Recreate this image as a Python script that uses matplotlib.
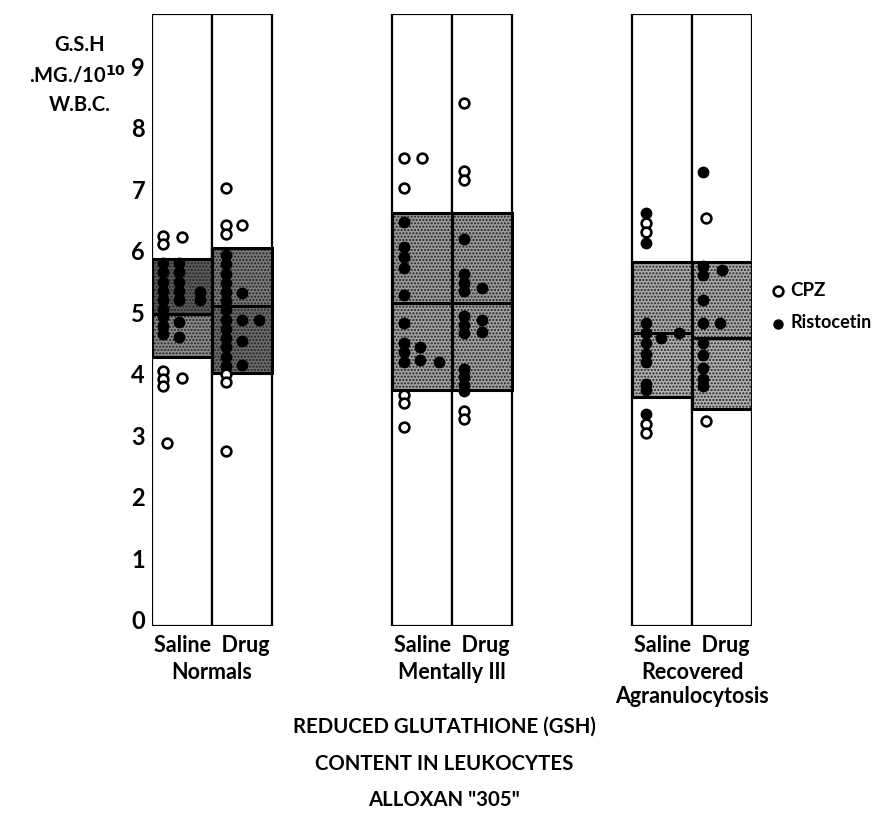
import matplotlib
matplotlib.use("Agg")
import matplotlib.pyplot as plt
from matplotlib.patches import Rectangle

plt.rcParams['font.family'] = ['Lato', 'DejaVu Sans']

groups = ["Normals", "Mentally Ill", "Recovered\nAgranulocytosis"]
columns = ["Saline", "Drug"]

# shaded band per column: bottom, middle line, top
band_low = [4.27, 4.02, 3.73, 3.73, 3.62, 3.42]
band_mid = [4.98, 5.11, 5.15, 5.15, 4.67, 4.59]
band_high = [5.86, 6.04, 6.61, 6.61, 5.81, 5.81]
# shade of the upper / lower half
shade_up = ['#5a5a5a', '#7a7a7a', '#9a9a9a', '#9a9a9a', '#a8a8a8', '#a8a8a8']
shade_lo = ['#8a8a8a', '#6a6a6a', '#a0a0a0', '#a0a0a0', '#b0b0b0', '#b0b0b0']

# CPZ (open) points, x offset inside column and value
cpz_x = [
    [0.18, 0.18, 0.5, 0.18, 0.18, 0.18, 0.5, 0.25],
    [0.23, 0.23, 0.23, 0.5, 0.23, 0.23, 0.23],
    [0.2, 0.5, 0.2, 0.2, 0.2, 0.2],
    [0.2, 0.2, 0.2, 0.2, 0.2],
    [0.23, 0.23, 0.23, 0.23],
    [0.23, 0.23],
]
cpz_y = [
    [6.24, 6.11, 6.22, 4.04, 3.92, 3.81, 3.94, 2.88],
    [7.02, 6.42, 6.28, 6.42, 4.0, 3.87, 2.75],
    [7.51, 7.51, 7.02, 3.65, 3.52, 3.13],
    [8.4, 7.3, 7.15, 3.4, 3.26],
    [6.45, 6.3, 3.19, 3.03],
    [6.53, 3.24],
]
# Ristocetin (filled) points
ris_x = [
    [0.18] * 9 + [0.45] * 7 + [0.8, 0.8],
    [0.23] * 13 + [0.5, 0.5, 0.78, 0.5, 0.5],
    [0.2] * 9 + [0.47, 0.47, 0.78],
    [0.2] * 4 + [0.5] + [0.2] * 3 + [0.5, 0.5] + [0.2] * 4,
    [0.23] * 2 + [0.23] * 7 + [0.48, 0.78, 0.23],
    [0.18, 0.18, 0.18, 0.5, 0.18, 0.18, 0.47, 0.18, 0.18, 0.18, 0.18, 0.18],
]
ris_y = [
    [5.8, 5.65, 5.5, 5.35, 5.2, 5.05, 4.92, 4.78, 4.64,
     5.8, 5.65, 5.5, 5.35, 5.2, 4.84, 4.6, 5.33, 5.2],
    [5.93, 5.78, 5.63, 5.48, 5.33, 5.18, 5.03, 4.88, 4.73, 4.58, 4.43, 4.28, 4.13,
     5.32, 4.87, 4.87, 4.54, 4.14],
    [6.47, 6.06, 5.9, 5.72, 5.28, 4.82, 4.5, 4.35, 4.2, 4.43, 4.22, 4.2],
    [6.2, 5.62, 5.48, 5.35, 5.4, 4.94, 4.8, 4.66, 4.88, 4.68, 4.08, 3.95, 3.82, 3.72],
    [6.61, 6.12, 4.82, 4.66, 4.5, 4.33, 4.19, 3.84, 3.73, 4.58, 4.67, 3.35],
    [7.28, 5.75, 5.6, 5.68, 5.2, 4.82, 4.82, 4.5, 4.3, 4.1, 3.92, 3.8],
]

col_left = [0, 1, 4, 5, 8, 9]

fig = plt.figure(figsize=(8.82, 8.18), dpi=100)
ax = fig.add_axes([152 / 882, 1 - 626 / 818, 600 / 882, 612 / 818])
ax.set_xlim(0, 10)
ax.set_ylim(-0.1, 9.85)

for i, x0 in enumerate(col_left):
    # white column
    ax.add_patch(Rectangle((x0, -0.1), 1, 9.95, facecolor='white',
                           edgecolor='black', lw=1.6, zorder=1))
    # stippled band, two halves
    for lo, hi, c in [(band_low[i], band_mid[i], shade_lo[i]),
                      (band_mid[i], band_high[i], shade_up[i])]:
        ax.add_patch(Rectangle((x0, lo), 1, hi - lo, facecolor=c,
                               edgecolor='none', zorder=2))
        ax.add_patch(Rectangle((x0, lo), 1, hi - lo, fill=False, hatch='.....',
                               edgecolor='#222222', lw=0, zorder=2))
        ax.add_patch(Rectangle((x0, lo), 1, hi - lo, fill=False,
                               edgecolor='black', lw=2.2, zorder=3))

    ax.plot([x0 + v for v in ris_x[i]], ris_y[i], 'o', ms=7.5,
            mfc='black', mec='black', zorder=4)
    ax.plot([x0 + v for v in cpz_x[i]], cpz_y[i], 'o', ms=7,
            mfc='white', mec='black', mew=1.9, zorder=4)

for s in ax.spines.values():
    s.set_visible(False)
ax.set_xticks([])
ax.set_yticks(range(10))
ax.set_yticklabels([str(v) for v in range(10)], fontsize=17, fontweight='bold')
ax.tick_params(axis='y', length=0, pad=5)

# column and group labels
for g, name in enumerate(groups):
    xc = col_left[2 * g] + 1
    ax.text(xc, -0.41, "Saline  Drug", ha='center', va='center',
            fontsize=15.5, fontweight='bold')
    ax.text(xc, -0.68, name, ha='center', va='top', fontsize=15.5,
            fontweight='bold', linespacing=1.2)

# y axis caption
fig.text(80 / 882, 1 - 45 / 818, "G.S.H", ha='center', va='center',
         fontsize=14.5, fontweight='bold')
fig.text(78 / 882, 1 - 75 / 818, r".MG./10$^{\mathbf{10}}$", ha='center', va='center',
         fontsize=14.5, fontweight='bold')
fig.text(80 / 882, 1 - 105 / 818, "W.B.C.", ha='center', va='center',
         fontsize=14.5, fontweight='bold')

# legend
fig.text(790 / 882, 1 - 291 / 818, "CPZ", ha='left', va='center',
         fontsize=13.5, fontweight='bold')
fig.text(790 / 882, 1 - 322 / 818, "Ristocetin", ha='left', va='center',
         fontsize=13, fontweight='bold')
fig.lines.append(plt.Line2D([778 / 882], [1 - 291 / 818], marker='o', ms=7,
                            mfc='white', mec='black', mew=1.9,
                            transform=fig.transFigure, figure=fig))
fig.lines.append(plt.Line2D([778 / 882], [1 - 324 / 818], marker='o', ms=6.5,
                            mfc='black', mec='black',
                            transform=fig.transFigure, figure=fig))

# caption
for y, t in [(727, "REDUCED GLUTATHIONE (GSH)"), (764, "CONTENT IN LEUKOCYTES"),
             (800, 'ALLOXAN "305"')]:
    fig.text(444 / 882, 1 - y / 818, t, ha='center', va='center',
             fontsize=14.7, fontweight='bold')

fig.savefig("out.png", dpi=100)
